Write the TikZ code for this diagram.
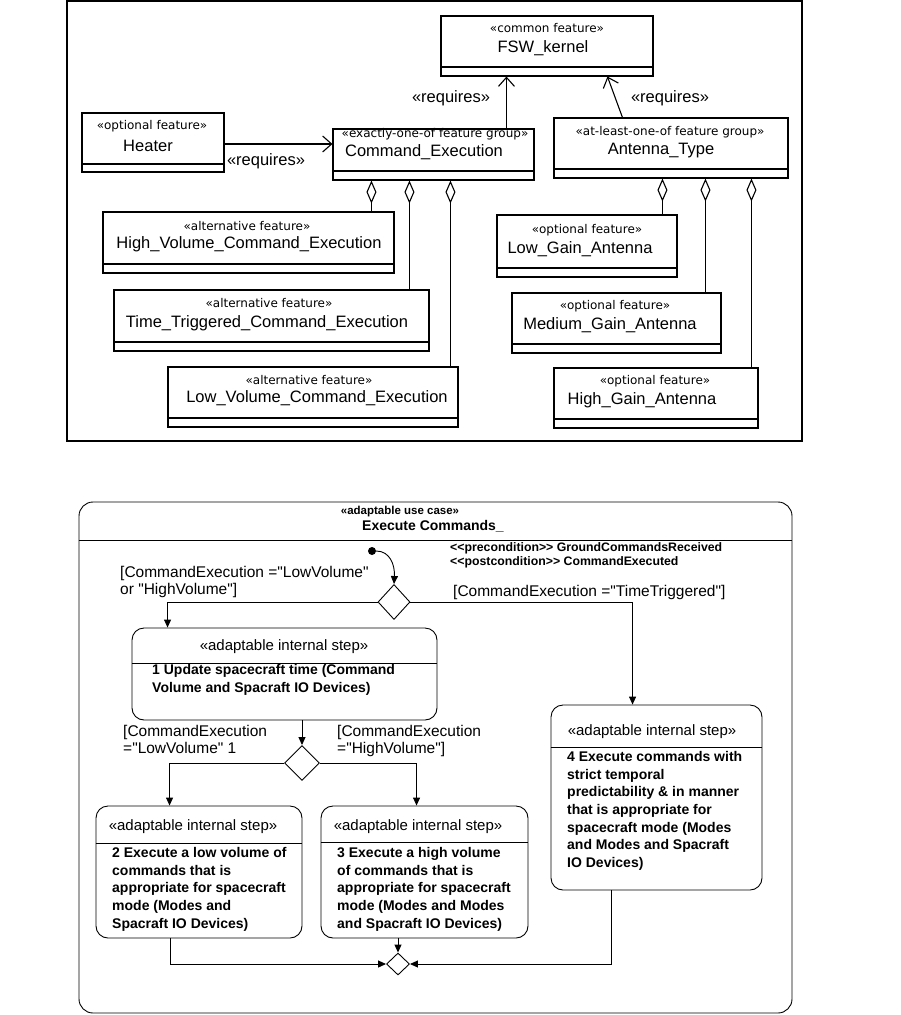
\documentclass[tikz,border=0pt]{standalone}
\usepackage{fontspec}
\setmainfont{Liberation Sans}[Ligatures=TeXOff]
\newfontfamily\stfont{DejaVu Sans}
\usetikzlibrary{arrows.meta,shapes.geometric,calc,fit}
\begin{document}
\begin{tikzpicture}[x=1pt,y=-1pt,
  box/.style={draw, line width=1.1pt, inner sep=0pt},
  boxline/.style={line width=1.1pt},
  st/.style={font=\stfont\fontsize{12}{14}\selectfont, inner sep=0pt},
  nm/.style={font=\fontsize{16.5}{19}\selectfont, inner sep=0pt},
  agg/.style={line width=1.1pt, -{Diamond[open,length=23pt,width=10pt]}},
  req/.style={line width=1.1pt, -{Straight Barb[length=9pt,width=16pt]}},
  reqlbl/.style={font=\fontsize{16.5}{19}\selectfont, inner sep=0pt},
  stepbox/.style={draw, line width=0.9pt, inner sep=0pt, rounded corners=12pt},
  stephead/.style={font=\fontsize{15}{18}\selectfont, inner sep=0pt},
  stepbody/.style={font=\bfseries\fontsize{14}{17.7}\selectfont, inner sep=0pt, align=left, anchor=north west},
  guard/.style={font=\fontsize{15.5}{17}\selectfont, inner sep=0pt, align=left},
  dia/.style={draw, diamond, line width=0.9pt, inner sep=0pt},
  flow/.style={line width=0.9pt, -{Triangle[length=8pt,width=7pt]}},
  plain/.style={line width=0.9pt}
]
\useasboundingbox (0,0) rectangle (901,1015);

% ================= TOP: feature model =================
\node[box, fit={(67,1) (802,441)}] (topframe) {};

\newcommand\featbox[4]{%
  \node[box, fit={(#2) (#3)}] (#1) {};
  \draw[boxline] (#1.west |- 0,#4) -- (#1.east |- 0,#4);
}

\featbox{fsw}{441,16}{653,76}{67}
\node[st] (fsw-s) at (547,28) {«common feature»};
\node[nm] (fsw-n) at (543,48) {FSW\_kernel};

\featbox{heater}{82,113}{224,172}{164}
\node[st] (heater-s) at (152,126) {«optional feature»};
\node[nm] (heater-n) at (148,146) {Heater};

\featbox{cmd}{333,129}{534,180}{171}
\node[st] (cmd-s) at (435,134) {«exactly-one-of feature group»};
\node[nm] (cmd-n) at (424,152) {Command\_Execution};

\featbox{ant}{554,118}{788,178}{169}
\node[st] (ant-s) at (670,132) {«at-least-one-of feature group»};
\node[nm] (ant-n) at (661,151) {Antenna\_Type};

\featbox{hv}{103,212}{394,273}{264}
\node[st] (hv-s) at (247,226) {«alternative feature»};
\node[nm] (hv-n) at (249,244) {High\_Volume\_Command\_Execution};

\featbox{tt}{114,290}{429,351}{342}
\node[st] (tt-s) at (269,303) {«alternative feature»};
\node[nm] (tt-n) at (267,323) {Time\_Triggered\_Command\_Execution};

\featbox{lv}{168,367}{458,427}{418}
\node[st] (lv-s) at (309,380) {«alternative feature»};
\node[nm] (lv-n) at (317,398) {Low\_Volume\_Command\_Execution};

\featbox{lg}{497,215}{677,277}{268}
\node[st] (lg-s) at (587,230) {«optional feature»};
\node[nm] (lg-n) at (580,249) {Low\_Gain\_Antenna};

\featbox{mg}{512,293}{721,353}{344}
\node[st] (mg-s) at (615,306) {«optional feature»};
\node[nm] (mg-n) at (610,325) {Medium\_Gain\_Antenna};

\featbox{hg}{554,368}{758,428}{419}
\node[st] (hg-s) at (655,381) {«optional feature»};
\node[nm] (hg-n) at (642,400) {High\_Gain\_Antenna};

% aggregation attachment points
\coordinate (cA) at ($(cmd.south west)+(39,0)$);
\coordinate (cB) at ($(cmd.south west)+(77,0)$);
\coordinate (cC) at ($(cmd.south west)+(118,0)$);
\coordinate (aA) at ($(ant.south west)+(109,0)$);
\coordinate (aB) at ($(ant.south west)+(152,0)$);
\coordinate (aC) at ($(ant.south west)+(198,0)$);

\draw[agg] (hv.north -| cA) -- (cA);
\draw[agg] (tt.north -| cB) -- (cB);
\draw[agg] (lv.north -| cC) -- (cC);
\draw[agg] (lg.north -| aA) -- (aA);
\draw[agg] (mg.north -| aB) -- (aB);
\draw[agg] (hg.north -| aC) -- (aC);

% requires dependencies
\draw[req] (heater.east |- 0,144) -- (cmd.west |- 0,144);
\node[reqlbl] (rq-h) at (266,161) {«requires»};
\coordinate (rqx) at ($(cmd.north west)+(174,0)$);
\draw[req] (cmd.north -| rqx) -- (fsw.south -| rqx);
\node[reqlbl] (rq-c) at (451,98) {«requires»};
\draw[req] ($(ant.north west)+(69,0)$) -- ($(fsw.south west)+(167,0)$);
\node[reqlbl] (rq-a) at (670,98) {«requires»};

% ================= BOTTOM: use case activity =================
\node[draw, line width=0.9pt, inner sep=0pt, rounded corners=14pt, fit={(79,502) (792,1013)}] (ucframe) {};
\draw[plain] (ucframe.west |- 0,540) -- (ucframe.east |- 0,540);
\node[font=\bfseries\fontsize{11.5}{13}\selectfont, inner sep=0pt] (uc-s) at (400,512) {«adaptable use case»};
\node[font=\bfseries\fontsize{14}{16}\selectfont, inner sep=0pt] (uc-n) at (433,526) {Execute Commands\_};
\node[font=\bfseries\fontsize{12.3}{14}\selectfont, inner sep=0pt, anchor=west] (pre) at (450,548) {<{}<precondition>{}> GroundCommandsReceived};
\node[font=\bfseries\fontsize{12.3}{14}\selectfont, inner sep=0pt, anchor=west] (post) at (450,562) {<{}<postcondition>{}> CommandExecuted};

% initial node and first decision
\node[circle, fill, inner sep=0pt, minimum size=8pt] (init) at (372,551) {};
\node[dia, minimum width=32pt, minimum height=35pt] (d1) at (394,602) {};
\draw[flow] (init.east) .. controls (390,551) and (395,565) .. (d1.north);

% step boxes
\node[stepbox, fit={(132,628) (437,720)}] (b1) {};
\draw[plain] (b1.west |- 0,663) -- (b1.east |- 0,663);
\node[stephead] (b1-h) at (284,647) {«adaptable internal step»};
\node[stepbody] (b1-t) at (152,664) {1 Update spacecraft time (Command\\Volume and Spacraft IO Devices)};

\node[stepbox, fit={(96,806) (302,938)}] (b2) {};
\draw[plain] (b2.west |- 0,843) -- (b2.east |- 0,843);
\node[stephead] (b2-h) at (193,827) {«adaptable internal step»};
\node[stepbody] (b2-t) at (112,847) {2 Execute a low volume of\\commands that is\\appropriate for spacecraft\\mode (Modes and\\Spacraft IO Devices)};

\node[stepbox, fit={(321,806) (528,938)}] (b3) {};
\draw[plain] (b3.west |- 0,842) -- (b3.east |- 0,842);
\node[stephead] (b3-h) at (418,827) {«adaptable internal step»};
\node[stepbody] (b3-t) at (337,847) {3 Execute a high volume\\of commands that is\\appropriate for spacecraft\\mode (Modes and Modes\\and Spacraft IO Devices)};

\node[stepbox, fit={(551,705) (762,890)}] (b4) {};
\draw[plain] (b4.west |- 0,747) -- (b4.east |- 0,747);
\node[stephead] (b4-h) at (652,732) {«adaptable internal step»};
\node[stepbody] (b4-t) at (567,751) {4 Execute commands with\\strict temporal\\predictability \& in manner\\that is appropriate for\\spacecraft mode (Modes\\and Modes and Spacraft\\IO Devices)};

% decision 2 and merge
\node[dia, minimum width=35pt, minimum height=35pt] (d2) at (302,763) {};
\node[dia, minimum width=23pt, minimum height=22pt] (d3) at (398,964) {};

% flows
\draw[flow] (d1.west) -| ($(b1.north west)+(36,0)$);
\draw[flow] (d1.east) -| ($(b4.north west)+(82,0)$);
\draw[flow] (d2.north |- b1.south) -- (d2.north);
\draw[flow] (d2.west) -| ($(b2.north west)+(74,0)$);
\draw[flow] (d2.east) -| ($(b3.north west)+(96,0)$);
\draw[flow] (d3.north |- b3.south) -- (d3.north);
\draw[flow] ($(b2.south west)+(75,0)$) |- (d3.west);
\draw[flow] ($(b4.south west)+(61,0)$) |- (d3.east);

% guards
\node[guard, anchor=north west] (g1) at (120,566) {[CommandExecution ="LowVolume"\\or "HighVolume"]};
\node[guard, anchor=west] (g2) at (453,592) {[CommandExecution ="TimeTriggered"]};
\node[guard, anchor=north west] (g3) at (123,725) {[CommandExecution\\="LowVolume" 1};
\node[guard, anchor=north west] (g4) at (337,725) {[CommandExecution\\="HighVolume"]};
\end{tikzpicture}
\end{document}
